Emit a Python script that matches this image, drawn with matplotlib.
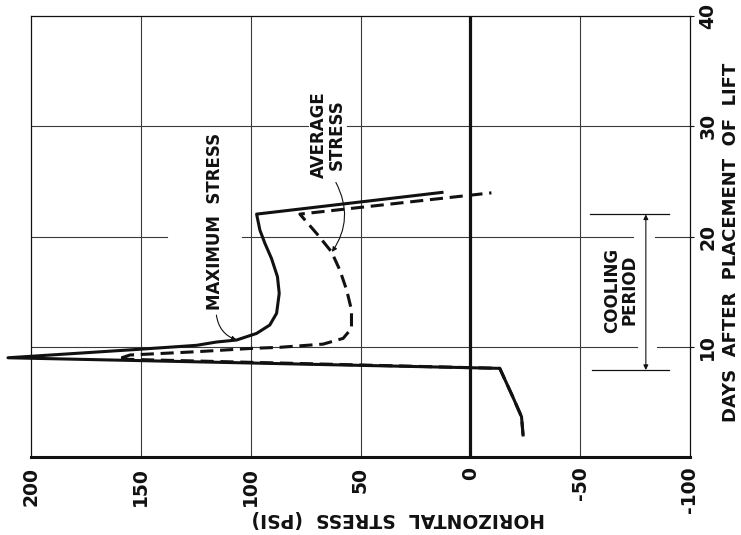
import matplotlib
matplotlib.use("Agg")
import matplotlib.pyplot as plt

plt.rcParams['axes.unicode_minus'] = False
plt.rcParams['font.family'] = ['DejaVu Sans']
plt.rcParams['font.weight'] = 'bold'

# ---- data (stress in psi, time in days) ----
max_days = [2.0, 3.65, 5.47, 8.04, 9.0, 9.78, 10.13, 10.43, 10.61, 11.21, 11.97, 13.03,
            14.84, 16.35, 18.0, 19.37, 20.58, 22.03, 24.0]
max_stress = [-24.0, -23.3, -19.3, -13.4, 210.5, 150.0, 124.6, 115.5, 106.4, 97.3, 91.3, 88.2,
              87.0, 87.8, 90.5, 93.5, 95.8, 97.3, 12.9]

avg_days = [2.0, 3.65, 5.47, 8.04, 8.88, 9.25, 9.55, 9.85, 9.95, 10.24, 10.76, 11.67,
            13.33, 15.14, 16.95, 18.61, 20.28, 22.03, 23.96]
avg_stress = [-24.0, -23.3, -19.3, -13.4, 160.4, 155.0, 124.6, 99.6, 86.7, 67.0, 57.9, 54.1,
              54.1, 56.3, 59.4, 63.2, 70.0, 77.6, -9.6]

stress_ticks = [200, 150, 100, 50, 0, -50, -100]
stress_tick_labels = ['200', '150', '100', '50', '0', '-50', '-100']
day_ticks = [10, 20, 30, 40]
day_tick_labels = ['10', '20', '30', '40']

cooling_start = 7.89
cooling_end = 22.0

W, H = 741, 535
fig = plt.figure(figsize=(W / 100, H / 100), dpi=100)
L, R, T, B = 31, 690, 16, 457
ax = fig.add_axes([L / W, 1 - B / H, (R - L) / W, (B - T) / H])
ax.set_xlim(200, -100)
ax.set_ylim(0, 40)

ink = '#111111'
grid_c = '#3a3a3a'

# grid lines (with gaps where the original leaves room for lettering)
for s in [150, 100, 50, -50]:
    ax.axvline(s, color=grid_c, lw=0.8, zorder=1)
ax.axvline(0, color=ink, lw=2.3, zorder=2)

def frac(px):
    return (px - L) / (R - L)

for d, segs in [(30, [(31, 308), (347, 690)]),
                (20, [(31, 167), (242, 633), (655, 690)]),
                (10, [(31, 637), (657, 690)])]:
    for a, b in segs:
        ax.axhline(d, xmin=frac(a), xmax=frac(b), color=grid_c, lw=0.8, zorder=1)

# curves
ax.plot(max_stress, max_days, color=ink, lw=2.2, clip_on=False, zorder=4,
        solid_joinstyle='round')
ax.plot(avg_stress, avg_days, color=ink, lw=2.2, clip_on=False, zorder=4,
        dashes=(4.3, 2.2))

# spines
for side in ['left', 'top', 'right']:
    ax.spines[side].set_linewidth(0.9)
    ax.spines[side].set_color(ink)
ax.spines['bottom'].set_linewidth(2.2)
ax.spines['bottom'].set_color(ink)

ax.set_xticks(stress_ticks)
ax.set_xticklabels(stress_tick_labels, rotation=90, fontsize=13.5, fontweight='bold')
ax.yaxis.tick_right()
ax.set_yticks(day_ticks)
ax.set_yticklabels(day_tick_labels, rotation=90, fontsize=13.5, va='center',
                   fontweight='bold')
ax.tick_params(axis='x', length=0, pad=7, colors=ink)
ax.tick_params(axis='y', length=3, pad=3, colors=ink, width=0.8)

# axis titles
fig.text(398 / W, 1 - 518 / H, 'HORIZONTAL  STRESS  (PSI)', rotation=180,
         ha='center', va='center', fontsize=13.5, color=ink, fontweight='bold')
fig.text(731 / W, 1 - 242 / H, 'DAYS  AFTER  PLACEMENT  OF  LIFT', rotation=90,
         ha='center', va='center', fontsize=13, color=ink, fontweight='bold')

# annotations
ax.text(116.2, 21.4, 'MAXIMUM  STRESS', rotation=90, ha='center', va='center',
        fontsize=12, color=ink, fontweight='bold')
ax.annotate('', xy=(106.4, 10.61), xytext=(115.6, 12.87),
            arrowprops=dict(arrowstyle='-|>', connectionstyle='arc3,rad=0.3',
                            lw=0.8, color=ink, mutation_scale=7, shrinkA=0, shrinkB=0))
ax.text(64.8, 29.2, 'AVERAGE\nSTRESS', rotation=90, ha='center', va='center',
        multialignment='center', fontsize=12, color=ink, linespacing=1.0,
        fontweight='bold')
ax.annotate('', xy=(63.0, 18.6), xytext=(61.2, 24.9),
            arrowprops=dict(arrowstyle='-|>', connectionstyle='arc3,rad=-0.3',
                            lw=0.8, color=ink, mutation_scale=7, shrinkA=0, shrinkB=0))

# cooling period bracket
ax.plot([-54.7, -90.4], [cooling_end, cooling_end], color=ink, lw=0.9, zorder=3)
ax.plot([-55.6, -90.4], [cooling_start, cooling_start], color=ink, lw=0.9, zorder=3)
ax.annotate('', xy=(-79.9, cooling_end), xytext=(-79.9, cooling_start),
            arrowprops=dict(arrowstyle='<|-|>', lw=0.8, color=ink, mutation_scale=7,
                            shrinkA=0, shrinkB=0))
ax.text(-68.5, 15.14, 'COOLING\nPERIOD', rotation=90, ha='center', va='center',
        multialignment='center', fontsize=12, color=ink, linespacing=1.0,
        fontweight='bold')

fig.savefig('out.png', dpi=100)
